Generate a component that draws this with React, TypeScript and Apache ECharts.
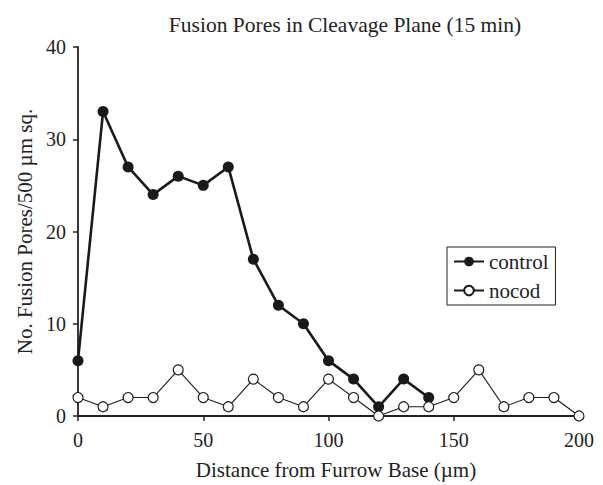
import React, { useEffect, useRef } from "react";
import * as echarts from "echarts";

const distances = [0, 10, 20, 30, 40, 50, 60, 70, 80, 90, 100, 110, 120, 130, 140, 150, 160, 170, 180, 190, 200];
const controlValues = [6, 33, 27, 24, 26, 25, 27, 17, 12, 10, 6, 4, 1, 4, 2];
const nocodValues = [2, 1, 2, 2, 5, 2, 1, 4, 2, 1, 4, 2, 0, 1, 1, 2, 5, 1, 2, 2, 0];
const tailPoints: [number, number][] = [[-1.8, 7.7], [0, 6]];
const xTicks = [0, 50, 100, 150, 200];
const yTicks = [0, 10, 20, 30, 40];

const FONT = "Liberation Serif";

export default function App() {
  const ref = useRef<HTMLDivElement>(null);
  useEffect(() => {
    if (!ref.current) return;
    const chart = echarts.init(ref.current, undefined, { renderer: "svg" });
    chart.setOption({
      animation: false,
      backgroundColor: "#fff",
      textStyle: { fontFamily: FONT, color: "#222" },
      title: {
        text: "Fusion Pores in Cleavage Plane (15 min)",
        left: 340,
        textAlign: "center",
        top: 9,
        textStyle: { fontFamily: FONT, fontSize: 21.5, fontWeight: "normal", color: "#222" },
      },
      grid: { left: 78, right: 24, top: 47, bottom: 67, containLabel: false },
      legend: {
        left: 447,
        top: 247,
        orient: "vertical",
        itemGap: 8,
        itemWidth: 30,
        itemHeight: 12,
        padding: [4, 7, 4, 6],
        borderColor: "#222",
        borderWidth: 1,
        borderRadius: 0,
        textStyle: { fontFamily: FONT, fontSize: 21, color: "#222" },
        data: ["control", "nocod"],
      },
      xAxis: {
        type: "value",
        min: xTicks[0],
        max: xTicks[xTicks.length - 1],
        interval: 50,
        name: "Distance from Furrow Base (µm)",
        nameLocation: "middle",
        nameGap: 43,
        nameTextStyle: { fontFamily: FONT, fontSize: 21, color: "#222", padding: [0, 0, 0, 15] },
        axisLine: { show: true, lineStyle: { color: "#222", width: 1.8 } },
        axisTick: { show: true, length: 5, lineStyle: { color: "#222", width: 1.5 } },
        axisLabel: { fontFamily: FONT, fontSize: 20, color: "#222", margin: 14 },
        splitLine: { show: false },
      },
      yAxis: {
        type: "value",
        min: yTicks[0],
        max: yTicks[yTicks.length - 1],
        interval: 10,
        name: "No. Fusion Pores/500 µm sq.",
        nameLocation: "middle",
        nameGap: 42,
        nameTextStyle: { fontFamily: FONT, fontSize: 21, color: "#222" },
        axisLine: { show: true, lineStyle: { color: "#222", width: 1.8 } },
        axisTick: { show: true, length: 5, lineStyle: { color: "#222", width: 1.5 } },
        axisLabel: { fontFamily: FONT, fontSize: 20, color: "#222", margin: 12 },
        splitLine: { show: false },
      },
      series: [
        {
          name: "tail",
          type: "line",
          data: tailPoints,
          symbol: "none",
          clip: false,
          silent: true,
          lineStyle: { color: "#222", width: 2 },
          z: 3,
        },
        {
          name: "control",
          type: "line",
          data: controlValues.map((v, i) => [distances[i], v]),
          symbol: "circle",
          symbolSize: 11,
          clip: false,
          itemStyle: { color: "#1a1a1a", borderColor: "#1a1a1a", borderWidth: 0 },
          lineStyle: { color: "#1a1a1a", width: 2.6 },
          z: 4,
        },
        {
          name: "nocod",
          type: "line",
          data: nocodValues.map((v, i) => [distances[i], v]),
          symbol: "circle",
          symbolSize: 10,
          clip: false,
          itemStyle: { color: "#fff", borderColor: "#1a1a1a", borderWidth: 1.2 },
          lineStyle: { color: "#1a1a1a", width: 1.1 },
          z: 5,
        },
      ],
    });
    return () => chart.dispose();
  }, []);
  return <div ref={ref} style={{ width: 603, height: 485, position: "absolute", left: 0, top: 0 }} />;
}
